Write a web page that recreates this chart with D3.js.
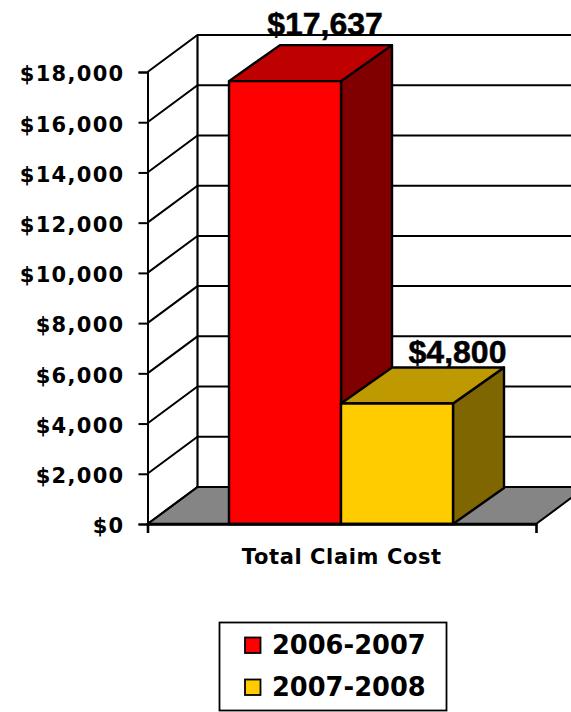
<!DOCTYPE html>
<html><head><meta charset="utf-8">
<script src="https://cdnjs.cloudflare.com/ajax/libs/d3/7.8.5/d3.min.js"></script>
<style>html,body{margin:0;padding:0;background:#fff}svg{display:block}</style></head>
<body><div id="c"></div>
<script>
const categories = ["Total Claim Cost"];
const seriesNames = ["2006-2007", "2007-2008"];
const seriesValues = [17637, 4800];
const seriesLabels = ["$17,637", "$4,800"];
const seriesColors = ["#ff0000", "#ffcc00"];
const topColors = ["#bf0000", "#bf9900"];
const sideColors = ["#800000", "#806600"];
const yTicks = [0, 2000, 4000, 6000, 8000, 10000, 12000, 14000, 16000, 18000];

const W = 571, H = 712;
const svg = d3.select("#c").append("svg").attr("width", W).attr("height", H);
const y = d3.scaleLinear().domain([0, 18000]).range([524, 72]);
const xCat = d3.scaleBand().domain(categories).range([147.5, 536]);
const xBar = d3.scaleBand().domain(seriesNames).range([229, 453]);
const wall = {dx: 50, dy: -37};
const bar = {dx: 51, dy: -36};
const ink = "#000";
const tickFont = "'DejaVu Sans',Verdana,sans-serif";

// floor
const fl = [[147.5, y(0)], [147.5 + wall.dx, y(0) + wall.dy], [536 + wall.dx, y(0) + wall.dy], [536, y(0)]];
svg.append("polygon").attr("points", fl.join(" ")).attr("fill", "#858585").attr("stroke", ink).attr("stroke-width", 2);

// gridlines on side and back walls
const g = svg.append("g").attr("fill", "none").attr("stroke", ink).attr("stroke-width", 2);
yTicks.forEach(t => {
  g.append("path").attr("d", `M147.5,${y(t)}L${147.5 + wall.dx},${y(t) + wall.dy}L${W},${y(t) + wall.dy}`);
});
g.append("line").attr("x1", 147.5 + wall.dx).attr("x2", 147.5 + wall.dx)
  .attr("y1", y(0) + wall.dy).attr("y2", y(18000) + wall.dy).attr("stroke-width", 2.2);

// value axis
const yAxis = d3.axisLeft(y).tickValues(yTicks).tickSize(9).tickPadding(14).tickFormat(d3.format("$,"));
const ya = svg.append("g").attr("transform", "translate(147.5,0)").call(yAxis);
ya.selectAll("path,line").attr("stroke", ink).attr("stroke-width", 2);
ya.selectAll("text").attr("font-family", tickFont).attr("font-weight", "bold")
  .attr("font-size", 21).attr("letter-spacing", 1.3).attr("fill", ink).attr("dy", "0.42em");

// category axis
const xAxis = d3.axisBottom(xCat).tickSizeOuter(9).tickSizeInner(0).tickPadding(25);
const xa = svg.append("g").attr("transform", `translate(0,${y(0)})`).call(xAxis);
xa.selectAll("path").attr("stroke", ink).attr("stroke-width", 2.6).attr("fill", "none");
xa.selectAll("line").remove();
xa.selectAll("text").attr("font-family", tickFont).attr("font-weight", "bold")
  .attr("font-size", 21).attr("letter-spacing", 0.6).attr("fill", ink);

// bars
const bars = svg.append("g").selectAll("g").data(seriesNames).join("g");
bars.each(function (name, i) {
  const s = d3.select(this);
  const x0 = xBar(name), x1 = x0 + xBar.bandwidth(), yt = y(seriesValues[i]), yb = y(0);
  s.append("polygon").attr("points", [[x1, yb], [x1 + bar.dx, yb + bar.dy], [x1 + bar.dx, yt + bar.dy], [x1, yt]].join(" "))
    .attr("fill", sideColors[i]);
  s.append("polygon").attr("points", [[x0, yt], [x0 + bar.dx, yt + bar.dy], [x1 + bar.dx, yt + bar.dy], [x1, yt]].join(" "))
    .attr("fill", topColors[i]);
  s.append("rect").attr("x", x0).attr("y", yt).attr("width", x1 - x0).attr("height", yb - yt).attr("fill", seriesColors[i]);
  s.selectAll("polygon,rect").attr("stroke", ink).attr("stroke-width", 2.4).attr("stroke-linejoin", "round");
});
// baseline redrawn over the bar feet
svg.append("line").attr("x1", 147.5).attr("x2", 536).attr("y1", y(0)).attr("y2", y(0)).attr("stroke", ink).attr("stroke-width", 2.6);

// data labels
const labelShift = [[40, -10], [60.5, -4]];
svg.append("g").selectAll("text").data(seriesNames).join("text")
  .attr("x", (d, i) => xBar(d) + xBar.bandwidth() / 2 + labelShift[i][0])
  .attr("y", (d, i) => y(seriesValues[i]) + bar.dy + labelShift[i][1])
  .attr("text-anchor", "middle").attr("font-family", "'Liberation Sans',Arial,sans-serif")
  .attr("font-weight", "bold").attr("font-size", 32).attr("fill", ink)
  .attr("stroke", ink).attr("stroke-width", 0.5)
  .text((d, i) => seriesLabels[i]);

// legend
const lg = svg.append("g");
lg.append("rect").attr("x", 219.5).attr("y", 622.5).attr("width", 227).attr("height", 88)
  .attr("fill", "#fff").attr("stroke", ink).attr("stroke-width", 1.8);
const legendY = d3.scalePoint().domain(seriesNames).range([645, 687]);
const items = lg.selectAll("g").data(seriesNames).join("g").attr("transform", d => `translate(0,${legendY(d)})`);
items.append("rect").attr("x", 245).attr("y", -7.5).attr("width", 15.5).attr("height", 15.5)
  .attr("fill", (d, i) => seriesColors[i]).attr("stroke", ink).attr("stroke-width", 1.8);
items.append("text").attr("x", 272).attr("dy", "0.36em").attr("font-family", tickFont)
  .attr("font-weight", "bold").attr("font-size", 25.7).attr("fill", ink).text(d => d);
</script></body></html>
